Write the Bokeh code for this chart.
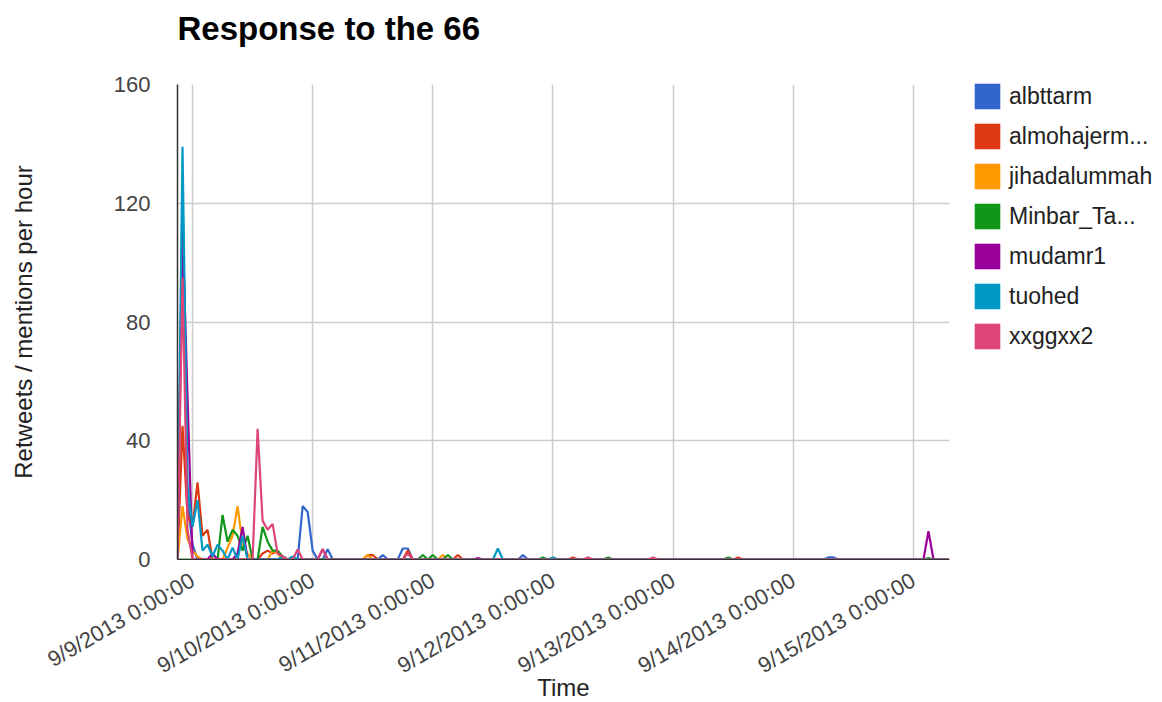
from datetime import datetime, timedelta

from bokeh.plotting import figure
from bokeh.models import (Legend, LegendItem, FixedTicker, Range1d,
                          ColumnDataSource, Title)
from bokeh.embed import file_html
from bokeh.resources import INLINE

# ---------------- data ----------------
START = datetime(2013, 9, 8, 21, 0)   # first hourly sample
N_HOURS = 155                          # hourly samples shown

series_names = ["albttarm", "almohajerm...", "jihadalummah", "Minbar_Ta...",
                "mudamr1", "tuohed", "xxggxx2"]
colors = ["#3366cc", "#dc3912", "#ff9900", "#109618", "#990099", "#0099c6", "#dd4477"]

# non-zero hourly values (hour offset from START, value); all other hours are 0
albttarm_hours = [1, 2, 3, 25, 26, 27, 30, 41, 45, 46, 69, 130, 131]
albttarm_vals = [125, 20, 5, 18, 16, 3, 3.5, 1.5, 3.7, 3.7, 1.5, 0.7, 0.7]

almohajerm_hours = [1, 2, 3, 4, 5, 6, 17, 18, 19, 20, 38, 39, 46, 56, 79, 112]
almohajerm_vals = [45, 15, 11, 26, 8, 10, 2, 3, 2, 3, 1.5, 1.5, 3, 1.5, 0.7, 0.7]

jihadalummah_hours = [1, 2, 3, 4, 10, 11, 12, 13, 14, 19, 20, 38, 53, 75]
jihadalummah_vals = [18, 7, 3, 1, 4, 8, 18, 5, 2, 3, 2, 1.5, 1.5, 0.7]

minbar_hours = [9, 10, 11, 12, 13, 14, 17, 18, 19, 20, 21, 49, 51, 54, 73, 86, 110, 150]
minbar_vals = [15, 6, 10, 8, 3, 8, 11, 6, 3, 3, 1, 1.5, 1.5, 1.5, 0.7, 0.7, 0.7, 0.5]

mudamr1_hours = [1, 2, 7, 12, 13, 29, 60, 150]
mudamr1_vals = [112, 55, 2, 2, 11, 3.5, 0.5, 9.5]

tuohed_hours = [1, 2, 3, 4, 5, 6, 7, 8, 9, 11, 13, 21, 23, 64, 75]
tuohed_vals = [139, 25, 11, 20, 3, 5, 1, 5, 3, 4, 8, 1, 1, 3.7, 0.7]

xxggxx2_hours = [1, 2, 16, 17, 18, 19, 20, 21, 24, 29, 46, 82, 95]
xxggxx2_vals = [95, 10, 44, 13, 10, 12, 2, 1, 3.4, 3.5, 2, 0.7, 0.7]

tick_dates = [datetime(2013, 9, d) for d in range(9, 16)]
tick_labels = ["9/9/2013 0:00:00", "9/10/2013 0:00:00", "9/11/2013 0:00:00",
               "9/12/2013 0:00:00", "9/13/2013 0:00:00", "9/14/2013 0:00:00",
               "9/15/2013 0:00:00"]
y_ticks = [0, 40, 80, 120, 160]

sparse = [(albttarm_hours, albttarm_vals), (almohajerm_hours, almohajerm_vals),
          (jihadalummah_hours, jihadalummah_vals), (minbar_hours, minbar_vals),
          (mudamr1_hours, mudamr1_vals), (tuohed_hours, tuohed_vals),
          (xxggxx2_hours, xxggxx2_vals)]

# ---------------- build ----------------
EPOCH = datetime(1970, 1, 1)
NAN = float("nan")


def ms(dt):
    return int((dt - EPOCH).total_seconds() * 1000)


times = [START + timedelta(hours=h) for h in range(N_HOURS)]

FONT = "Liberation Sans"

p = figure(frame_width=772, frame_height=475, x_axis_type="datetime",
           output_backend="svg", toolbar_location=None,
           x_range=Range1d(times[0], times[-1] + timedelta(hours=0.2)),
           y_range=Range1d(0, 160),
           min_border_left=177, min_border_right=207,
           min_border_top=84, min_border_bottom=120)

p.title.text = "Response to the 66"
p.title.text_font = FONT
p.title.text_font_size = "33px"
p.title.text_font_style = "bold"
p.title.text_color = "#000000"
p.title.align = "left"
p.title.vertical_align = "bottom"
p.title.offset = 0
p.title.standoff = 14

# thin spacer between the title and the plot area
p.add_layout(Title(text=" ", text_font_size="1px", standoff=28), "above")

p.outline_line_color = None
p.background_fill_color = "white"
p.border_fill_color = "white"

# axes
xa = p.xaxis[0]
xa.ticker = FixedTicker(ticks=[ms(d) for d in tick_dates])
xa.major_label_overrides = {ms(d): lab for d, lab in zip(tick_dates, tick_labels)}
xa.major_label_orientation = 0.5236
xa.major_label_text_font = FONT
xa.major_label_text_font_size = "22px"
xa.major_label_text_color = "#444444"
xa.major_label_standoff = 13
xa.major_tick_line_color = None
xa.minor_tick_line_color = None
xa.axis_line_color = "#333333"
xa.axis_label = "Time"
xa.axis_label_text_font = FONT
xa.axis_label_text_font_size = "24px"
xa.axis_label_text_font_style = "normal"
xa.axis_label_text_color = "#222222"
xa.axis_label_standoff = -18

ya = p.yaxis[0]
ya.ticker = FixedTicker(ticks=y_ticks)
ya.major_label_text_font = FONT
ya.major_label_text_font_size = "22px"
ya.major_label_text_color = "#444444"
ya.major_label_standoff = 21
ya.major_tick_line_color = None
ya.minor_tick_line_color = None
ya.axis_line_color = "#333333"
ya.axis_line_width = 1.5
ya.axis_label = "Retweets / mentions per hour"
ya.axis_label_text_font = FONT
ya.axis_label_text_font_size = "24px"
ya.axis_label_text_font_style = "normal"
ya.axis_label_text_color = "#222222"
ya.axis_label_standoff = 74

p.xgrid.grid_line_color = "#cccccc"
p.ygrid.grid_line_color = "#cccccc"
p.xgrid.grid_line_width = 1.5
p.ygrid.grid_line_width = 1.5

items = []
for name, col, (hrs, vals) in zip(series_names, colors, sparse):
    y = [0.0] * N_HOURS
    for h, v in zip(hrs, vals):
        y[h] = v
    src = ColumnDataSource(data=dict(t=times, v=y))
    p.line("t", "v", source=src, line_color=col, line_width=2.2)
    # legend swatch only (NaN geometry draws nothing in the plot)
    proxy = p.quad(left=[NAN], right=[NAN], top=[NAN], bottom=[NAN],
                   fill_color=col, line_color=None)
    items.append(LegendItem(label=name, renderers=[proxy]))

legend = Legend(items=items, location=(22, 207))
legend.glyph_width = 32
legend.glyph_height = 32
legend.spacing = 8
legend.label_standoff = 6
legend.label_text_font = FONT
legend.label_text_font_size = "23px"
legend.label_text_color = "#222222"
legend.padding = 0
legend.margin = 0
legend.border_line_color = None
legend.background_fill_alpha = 0
p.add_layout(legend, "right")

open("out.html", "w").write(file_html(p, INLINE))
